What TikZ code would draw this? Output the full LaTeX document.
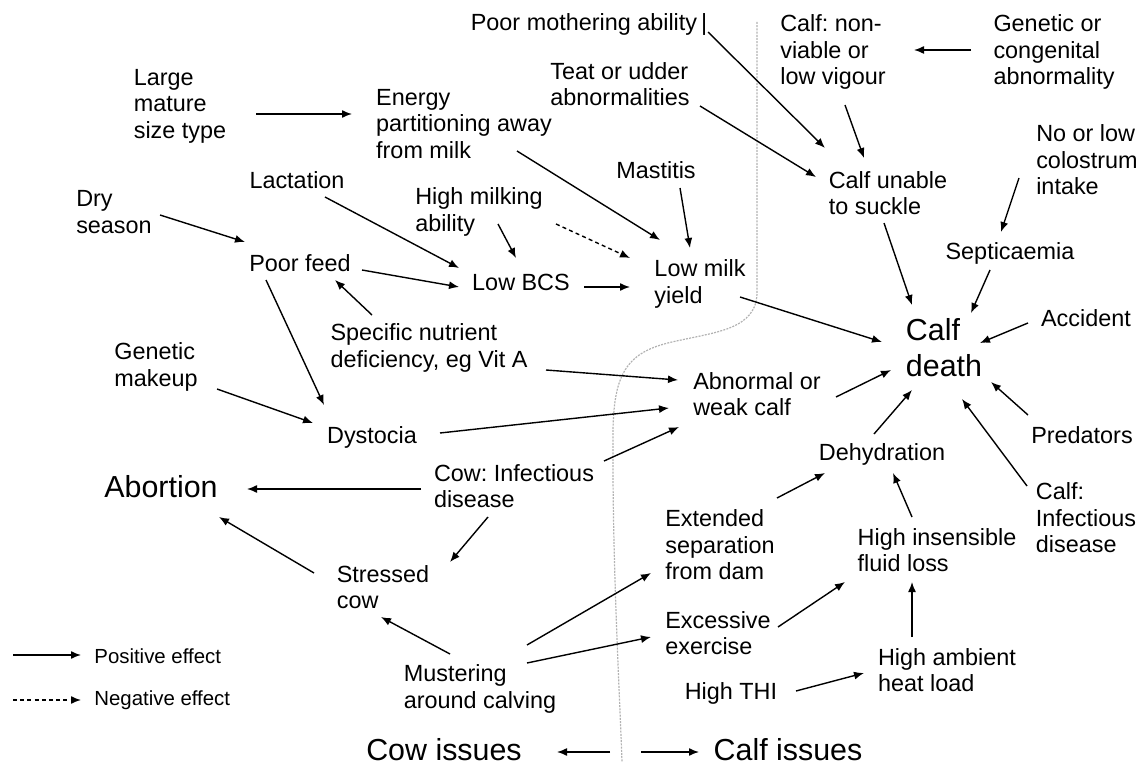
\documentclass[tikz,border=0pt]{standalone}
\usepackage{fontspec}
\setmainfont{Liberation Sans}
\usetikzlibrary{calc,arrows.meta}
\frenchspacing

\tikzset{
  box/.style={align=left, inner sep=0pt, font=\fontsize{11.7}{13.3}\selectfont},
  big/.style={align=left, inner sep=0pt, font=\fontsize{15.2}{18}\selectfont},
  key/.style={anchor=west, inner sep=0pt, font=\fontsize{10.2}{12}\selectfont},
  plus/.style={-{Latex[length=5pt,width=4pt]}, line width=0.7pt},
  minus/.style={plus, dash pattern=on 2pt off 1.6pt},
  divider/.style={gray!60, line width=0.6pt, dash pattern=on 1pt off 0.6pt}
}

\begin{document}
\begin{tikzpicture}[x=0.5pt,y=-0.5pt]
            \useasboundingbox (0,0) rectangle (1141,765);

            \draw [divider] (757,22)--(757,292) .. controls (757,330) and (715,332) .. (672,342)
                .. controls (628,352) and (614,372) .. (613,430) .. controls (612,560) and (620,700) .. (622,762);

            \node[box] (pm) at (589,25) {Poor mothering ability\,|};
            \node[box] (nv) at (833,52) {Calf: non-\\viable or\\low vigour};
            \node[box] (gc) at (1054,52) {Genetic or\\congenital\\abnormality};
            \node[box] (tu) at (620,84) {Teat or udder\\abnormalities};
            \node[box] (lm) at (180,106) {Large\\mature\\size type};
            \node[box] (ep) at (464,124) {Energy\\partitioning away\\from milk};
            \node[box] (cu) at (888,193) {Calf unable\\to suckle};
            \node[box] (nc) at (1087,160) {No or low\\colostrum\\intake};
            \node[box] (ma) at (656,170) {Mastitis};
            \node[box] (la) at (297,180) {Lactation};
            \node[box] (ds) at (114,212) {Dry\\season};
            \node[box] (hm) at (479,212) {High milking\\ability};
            \node[box] (pf) at (300,263) {Poor feed};
            \node[box] (lb) at (521,282) {Low BCS};
            \node[box] (ly) at (700,284) {Low milk\\yield};
            \node[box] (se) at (1010,253) {Septicaemia};
            \node[box] (sn) at (429,348) {Specific nutrient\\deficiency, eg Vit A};
            \node[box] (gm) at (156,367) {Genetic\\makeup};
            \node[big] (cd) at (944,348) {Calf\\death};
            \node[box] (ac) at (1086,318) {Accident};
            \node[box] (aw) at (757,394) {Abnormal or\\weak calf};
            \node[box] (dy) at (372,437) {Dystocia};
            \node[box] (pr) at (1082,435) {Predators};
            \node[box] (dh) at (882,454) {Dehydration};
            \node[box] (ci) at (514,486) {Cow: Infectious\\disease};
            \node[big] (ab) at (161,487) {Abortion};
            \node[box] (cf) at (1086,518) {Calf:\\Infectious\\disease};
            \node[box] (es) at (720,545) {Extended\\separation\\from dam};
            \node[box] (hi) at (937,550) {High insensible\\fluid loss};
            \node[box] (sc) at (383,587) {Stressed\\cow};
            \node[box] (ee) at (718,633) {Excessive\\exercise};
            \node[box] (ha) at (947,670) {High ambient\\heat load};
            \node[box] (th) at (731,693) {High THI};
            \node[box] (mu) at (480,689) {Mustering\\around calving};
            \node[big] (cow) at (444,750) {Cow issues};
            \node[big] (calf) at (788,750) {Calf issues};

            \draw [plus] ($(pm.center)+(119,7)$)--($(cu.center)+(-63,-45)$);
            \draw [plus] ($(tu.center)+(80,22)$)--($(cu.center)+(-72,-16)$);
            \draw [plus] ($(nv.center)+(12,53)$)--($(cu.center)+(-24,-35)$);
            \draw [plus] ($(gc.center)+(-83,-2)$)--($(nv.center)+(81,-2)$);
            \draw [plus] ($(lm.center)+(76,8)$)--($(ep.center)+(-112,-10)$);
            \draw [plus] ($(ep.center)+(53,27)$)--($(ly.center)+(-40,-44)$);
            \draw [plus] ($(ma.center)+(24,18)$)--($(ly.center)+(-10,-36)$);
            \draw [plus] ($(hm.center)+(19,12)$)--($(lb.center)+(-5,-24)$);
            \draw [minus] ($(hm.center)+(77,12)$)--($(ly.center)+(-70,-26)$);
            \draw [plus] ($(la.center)+(28,17)$)--($(lb.center)+(-62,-14)$);
            \draw [plus] ($(ds.center)+(46,3)$)--($(pf.center)+(-55,-21)$);
            \draw [plus] ($(pf.center)+(62,7)$)--($(lb.center)+(-62,5)$);
            \draw [plus] ($(sn.center)+(-57,-33)$)--($(pf.center)+(35,17)$);
            \draw [plus] ($(lb.center)+(63,5)$)--($(ly.center)+(-70,3)$);
            \draw [plus] ($(ly.center)+(40,13)$)--($(cd.center)+(-62,-6)$);
            \draw [plus] ($(cu.center)+(-4,30)$)--($(cd.center)+(-32,-43)$);
            \draw [plus] ($(se.center)+(-20,17)$)--($(cd.center)+(27,-35)$);
            \draw [plus] ($(nc.center)+(-68,18)$)--($(se.center)+(-9,-21)$);
            \draw [plus] ($(ac.center)+(-58,5)$)--($(cd.center)+(36,-5)$);
            \draw [plus] ($(sn.center)+(117,22)$)--($(aw.center)+(-79,-14)$);
            \draw [plus] ($(aw.center)+(79,3)$)--($(cd.center)+(-53,22)$);
            \draw [plus] ($(pr.center)+(-54,-20)$)--($(cd.center)+(47,34)$);
            \draw [plus] ($(dh.center)+(-8,-20)$)--($(cd.center)+(-32,42)$);
            \draw [plus] ($(cf.center)+(-59,-32)$)--($(cd.center)+(18,51)$);
            \draw [plus] ($(gm.center)+(61,22)$)--($(dy.center)+(-59,-14)$);
            \draw [plus] ($(pf.center)+(-34,17)$)--($(dy.center)+(-48,-32)$);
            \draw [plus] ($(dy.center)+(68,-4)$)--($(aw.center)+(-88,14)$);
            \draw [plus] ($(ci.center)+(90,-25)$)--($(aw.center)+(-78,33)$);
            \draw [plus] ($(ci.center)+(-93,3)$)--($(ab.center)+(86,2)$);
            \draw [plus] ($(ci.center)+(-26,31)$)--($(sc.center)+(67,-25)$);
            \draw [plus] ($(sc.center)+(-69,-14)$)--($(ab.center)+(58,30)$);
            \draw [plus] ($(mu.center)+(-30,-35)$)--($(sc.center)+(-2,30)$);
            \draw [plus] ($(mu.center)+(47,-44)$)--($(es.center)+(-69,28)$);
            \draw [plus] ($(mu.center)+(47,-26)$)--($(ee.center)+(-67,4)$);
            \draw [plus] ($(es.center)+(57,-47)$)--($(dh.center)+(-57,19)$);
            \draw [plus] ($(ee.center)+(60,-6)$)--($(hi.center)+(-92,32)$);
            \draw [plus] ($(hi.center)+(-25,-33)$)--($(dh.center)+(11,19)$);
            \draw [plus] ($(ha.center)+(-35,-33)$)--($(hi.center)+(-25,32)$);
            \draw [plus] ($(th.center)+(65,-2)$)--($(ha.center)+(-83,3)$);

            \coordinate (split) at (625,752);
            \draw [plus] ($(split)+(-15,0)$)--($(cow.center)+(113,2)$);
            \draw [plus] ($(split)+(16,0)$)--($(calf.center)+(-89,2)$);

            \coordinate (keyA) at (13,655);
            \coordinate (keyB) at (13,700);
            \node[key] (kp) at (94,656) {Positive effect};
            \node[key] (kn) at (94,700) {Negative effect};
            \draw [plus] (keyA)--($(kp.west)+(-13,-1)$);
            \draw [minus] (keyB)--($(kn.west)+(-13,0)$);
        \end{tikzpicture}
\end{document}
